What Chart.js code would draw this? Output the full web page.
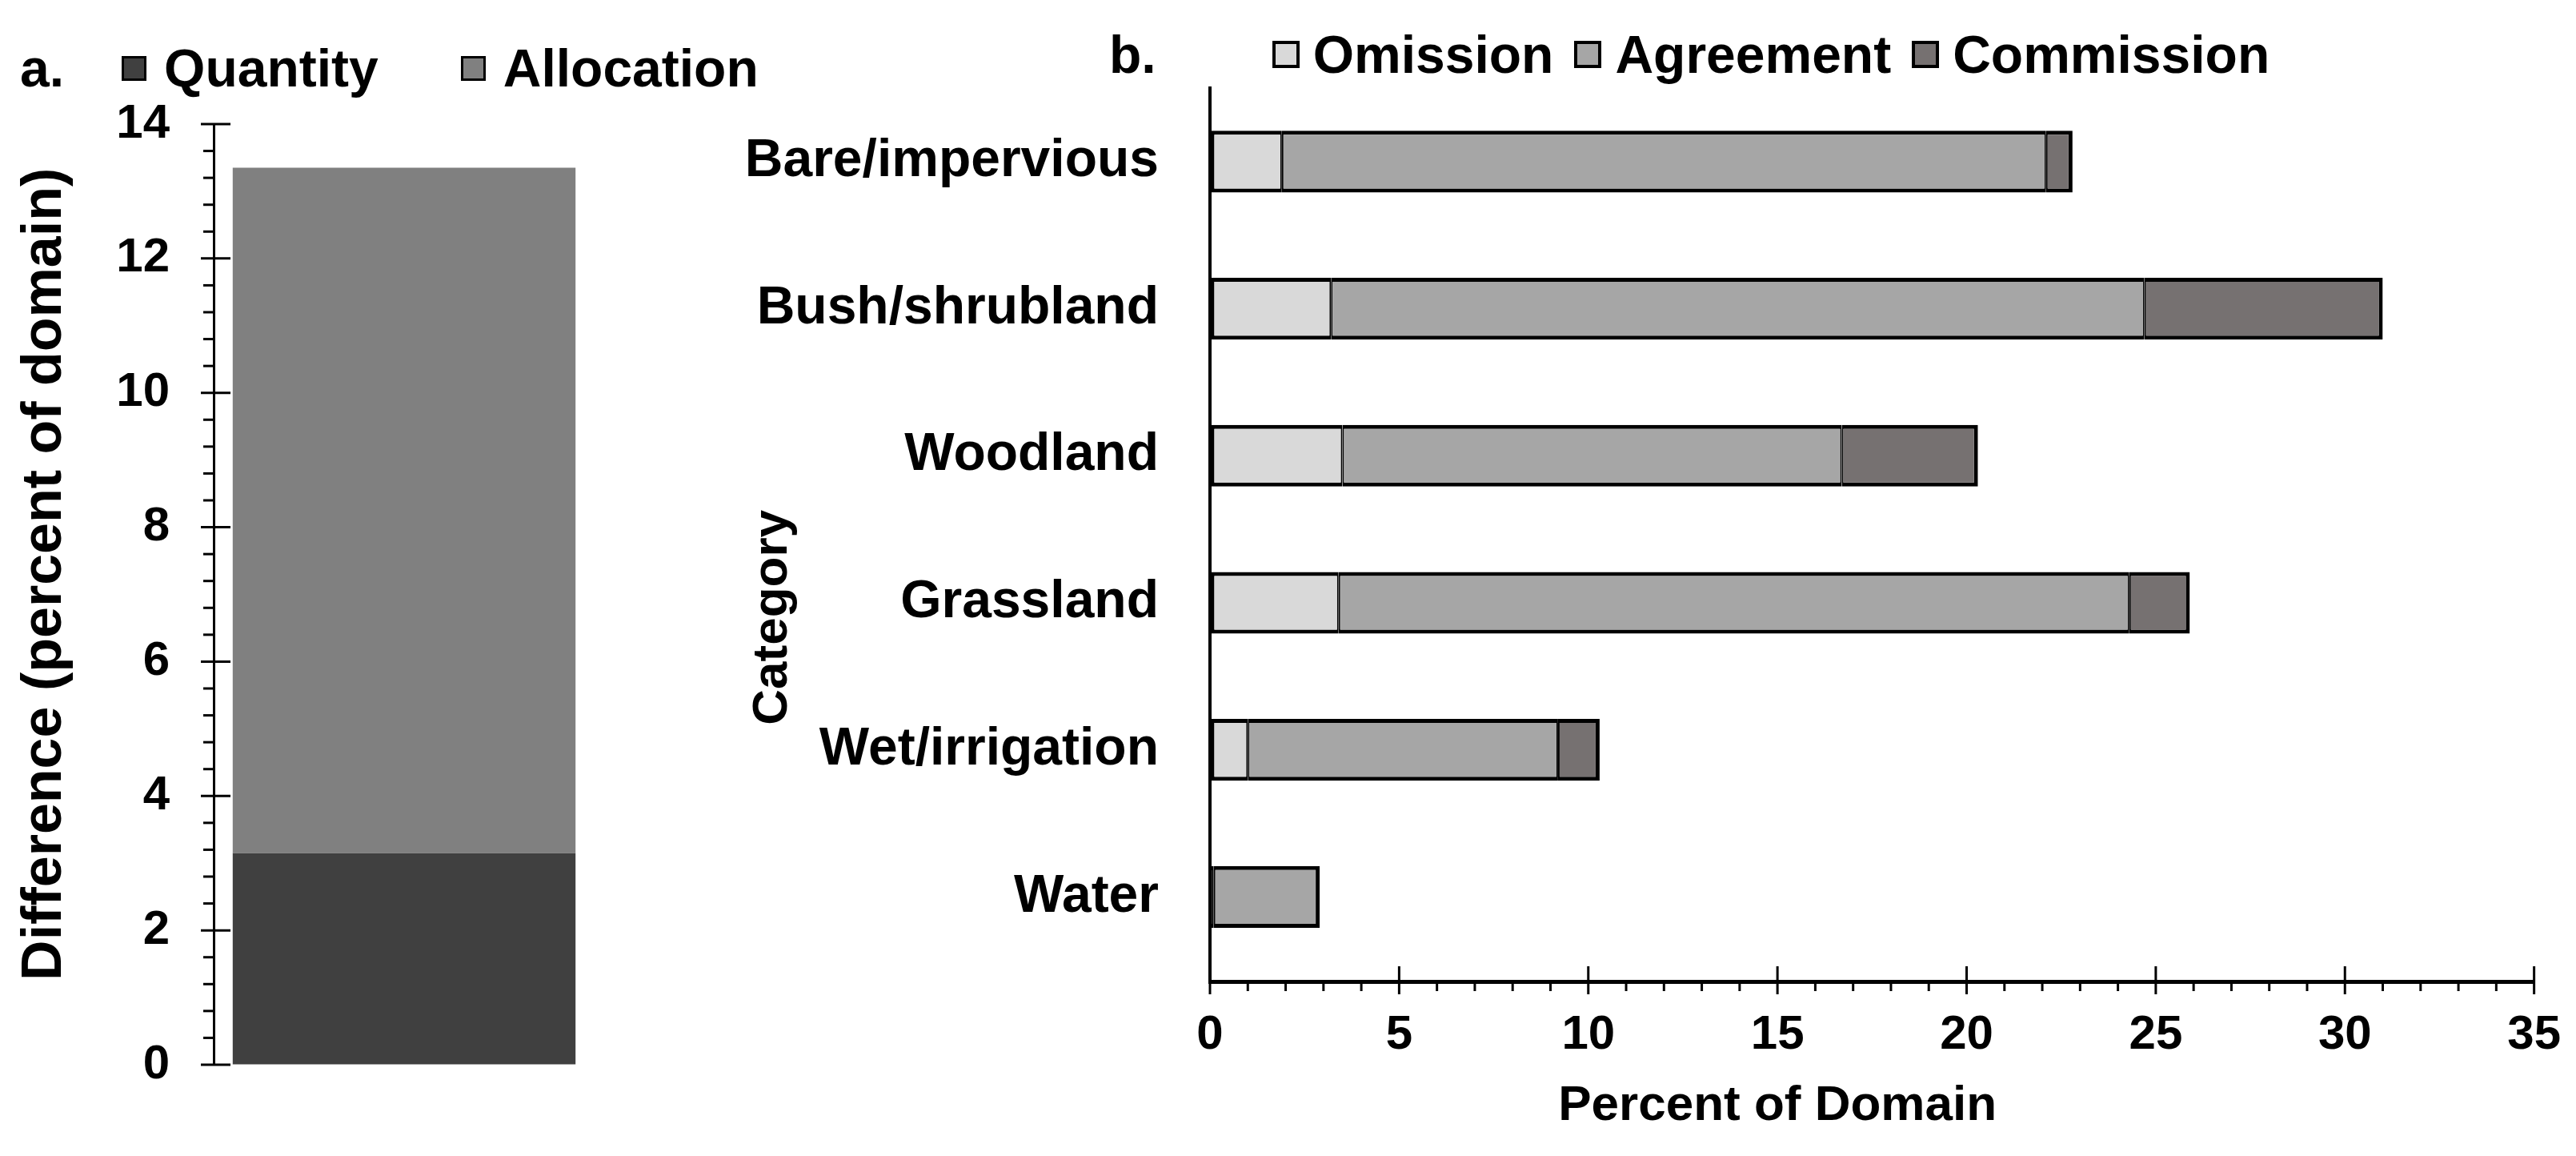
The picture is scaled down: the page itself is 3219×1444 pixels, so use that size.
<!DOCTYPE html>
<html>
<head>
<meta charset="utf-8">
<script src="https://cdn.jsdelivr.net/npm/chart.js@4.4.0/dist/chart.umd.min.js"></script>
<style>
    html, body { margin: 0; padding: 0; background: #fff; }
    body {
        width: 3219px; height: 1444px; position: relative; overflow: hidden;
        font-family: 'Liberation Sans', Arial, sans-serif; font-weight: bold; color: #000;
    }
    .panel { position: absolute; top: 0; height: 1444px; }
    #panelA { left: 0; width: 1000px; }
    #panelB { left: 860px; width: 2359px; }
    .legend {
        position: absolute; display: flex; align-items: center;
        font-size: 66px; line-height: 1; white-space: nowrap;
    }
    #legendA { left: 25px; top: 52px; }
    #legendB { left: 1386px; top: 35px; }
</style>
</head>
<body>
<div class="panel" id="panelA"><canvas id="chartA"></canvas></div>
<div class="panel" id="panelB"><canvas id="chartB"></canvas></div>
<div class="legend" id="legendA"></div>
<div class="legend" id="legendB"></div>
<script>
// panel a: difference components
const diffLabels = [''];
const quantity = [3.15];
const allocation = [10.2];
const diffTicks = [0, 2, 4, 6, 8, 10, 12, 14];

// panel b: per-category agreement
const categories = ['Bare/impervious', 'Bush/shrubland', 'Woodland', 'Grassland', 'Wet/irrigation', 'Water'];
const omission   = [1.9, 3.2, 3.5, 3.4, 1.0, 0.1];
const agreement  = [20.2, 21.5, 13.2, 20.9, 8.2, 2.8];
const commission = [0.7, 6.3, 3.6, 1.6, 1.1, 0];
const domainTicks = [0, 5, 10, 15, 20, 25, 30, 35];

const FONT = "'Liberation Sans', Arial, sans-serif";
Chart.defaults.font.family = FONT;
Chart.defaults.font.weight = 'bold';
Chart.defaults.color = '#000';

// 刻度线（主/次）和轴标题，位置都从比例尺取
const axisDecor = {
    id: 'axisDecor',
    afterDraw(chart, args, opts) {
        const ctx = chart.ctx;
        ctx.save();
        ctx.strokeStyle = '#000';
        (opts.ticks || []).forEach(t => {
            const scale = chart.scales[t.axis];
            const n = Math.round((scale.max - scale.min) / t.minorStep);
            ctx.lineWidth = t.width;
            for (let i = 0; i <= n; i++) {
                const v = scale.min + i * t.minorStep;
                const r = v / t.majorStep;
                const isMajor = Math.abs(r - Math.round(r)) < 1e-6;
                const p = scale.getPixelForValue(v);
                const out = isMajor ? t.majorOut : t.minorOut;
                const inn = isMajor ? t.majorIn : 0;
                ctx.beginPath();
                if (scale.isHorizontal()) {
                    ctx.moveTo(p, scale.top - inn);
                    ctx.lineTo(p, scale.top + out);
                } else {
                    ctx.moveTo(scale.right - out, p);
                    ctx.lineTo(scale.right + inn, p);
                }
                ctx.stroke();
            }
        });
        (opts.titles || []).forEach(t => {
            const scale = chart.scales[t.axis];
            const p = scale.getPixelForValue(t.at);
            ctx.save();
            ctx.font = `bold ${t.size}px ${FONT}`;
            ctx.fillStyle = '#000';
            ctx.textAlign = 'center';
            ctx.textBaseline = 'middle';
            if (scale.isHorizontal()) {
                ctx.fillText(t.text, p, scale.top + t.offset);
            } else {
                ctx.translate(scale.right - t.offset, p);
                ctx.rotate(-Math.PI / 2);
                ctx.fillText(t.text, 0, 0);
            }
            ctx.restore();
        });
        ctx.restore();
    }
};

// 图例用 HTML 生成
function htmlLegend(chart, el, tag, s) {
    el.innerHTML = '';
    const t = document.createElement('span');
    t.textContent = tag;
    t.style.marginRight = s.tagGap + 'px';
    el.appendChild(t);
    chart.data.datasets.forEach((ds, k) => {
        const box = document.createElement('span');
        box.style.cssText = `display:inline-block;box-sizing:border-box;width:${s.box}px;height:${s.box}px;` +
            `background:${ds.backgroundColor};border:${s.border}px solid #000;` +
            `margin-left:${k ? s.itemGap : 0}px;margin-right:${s.textGap}px`;
        el.appendChild(box);
        const txt = document.createElement('span');
        txt.textContent = ds.label;
        el.appendChild(txt);
    });
}

function segBorder(ctx) {
    const i = ctx.dataIndex;
    if (i === undefined) return 4;
    const vals = [omission[i], agreement[i], commission[i]];
    const first = vals.findIndex(v => v > 0);
    let last = -1;
    vals.forEach((v, k) => { if (v > 0) last = k; });
    const d = ctx.datasetIndex;
    return { top: 5, bottom: 5, left: d === first ? 5 : 2, right: d === last ? 5 : 2 };
}

const chartA = new Chart(document.getElementById('chartA'), {
    type: 'bar',
    data: {
        labels: diffLabels,
        datasets: [
            { label: 'Quantity', data: quantity, backgroundColor: '#404040' },
            { label: 'Allocation', data: allocation, backgroundColor: '#808080' }
        ]
    },
    options: {
        responsive: true,
        maintainAspectRatio: false,
        animation: false,
        layout: { padding: { top: 155, right: 257, bottom: 114, left: 0 } },
        datasets: { bar: { categoryPercentage: 1, barPercentage: 0.9 } },
        scales: {
            x: { display: false, stacked: true },
            y: {
                stacked: true,
                min: diffTicks[0],
                max: diffTicks[diffTicks.length - 1],
                afterBuildTicks: s => { s.ticks = diffTicks.map(v => ({ value: v })); },
                ticks: { color: '#000', font: { size: 60, weight: 'bold' }, padding: 39 },
                grid: { drawOnChartArea: false, drawTicks: true, tickLength: 16, color: 'rgba(0,0,0,0)' },
                border: { color: '#000', width: 3 },
                afterFit: s => { s.width = 267; }
            }
        },
        plugins: {
            legend: { display: false },
            tooltip: { enabled: false },
            axisDecor: {
                ticks: [{ axis: 'y', minorStep: 0.4, majorStep: 2, majorOut: 16, majorIn: 21, minorOut: 13, width: 3 }],
                titles: [{ axis: 'y', text: 'Difference (percent of domain)', at: 7.3, offset: 210, size: 70 }]
            }
        }
    },
    plugins: [axisDecor]
});

const chartB = new Chart(document.getElementById('chartB'), {
    type: 'bar',
    data: {
        labels: categories,
        datasets: [
            { label: 'Omission', data: omission, backgroundColor: '#d9d9d9' },
            { label: 'Agreement', data: agreement, backgroundColor: '#a6a6a6' },
            { label: 'Commission', data: commission, backgroundColor: '#767171' }
        ]
    },
    options: {
        indexAxis: 'y',
        responsive: true,
        maintainAspectRatio: false,
        animation: false,
        layout: { padding: { top: 110, right: 51, bottom: 108, left: 0 } },
        datasets: {
            bar: {
                categoryPercentage: 1,
                barPercentage: 0.42,
                borderColor: '#000',
                borderSkipped: false,
                borderWidth: segBorder
            }
        },
        scales: {
            x: {
                stacked: true,
                min: domainTicks[0],
                max: domainTicks[domainTicks.length - 1],
                afterBuildTicks: s => { s.ticks = domainTicks.map(v => ({ value: v })); },
                ticks: { color: '#000', font: { size: 60, weight: 'bold' }, padding: 19, maxRotation: 0 },
                grid: { drawOnChartArea: false, drawTicks: true, tickLength: 12, color: 'rgba(0,0,0,0)' },
                border: { color: '#000', width: 5 },
                afterFit: s => { s.height = 110; }
            },
            y: {
                stacked: true,
                // 底部多留一点空白，x 轴比最后一个类别低
                afterBuildTicks: s => { s._valueRange += 0.075; },
                ticks: { color: '#000', font: { size: 66, weight: 'bold' }, padding: 64 },
                grid: { drawOnChartArea: false, drawTicks: false, color: 'rgba(0,0,0,0)' },
                border: { color: '#000', width: 4 },
                afterFit: s => { s.width = 652; }
            }
        },
        plugins: {
            legend: { display: false },
            tooltip: { enabled: false },
            axisDecor: {
                ticks: [{ axis: 'x', minorStep: 1, majorStep: 5, majorOut: 16, majorIn: 19, minorOut: 12, width: 3 }],
                titles: [
                    { axis: 'x', text: 'Percent of Domain', at: 15, offset: 156, size: 62 },
                    { axis: 'y', text: 'Category', at: 3.1, offset: 546, size: 62 }
                ]
            }
        }
    },
    plugins: [axisDecor]
});

htmlLegend(chartA, document.getElementById('legendA'), 'a.', { tagGap: 72, box: 31, border: 3, textGap: 22, itemGap: 103 });
htmlLegend(chartB, document.getElementById('legendB'), 'b.', { tagGap: 145, box: 34, border: 4, textGap: 17, itemGap: 26 });
</script>
</body>
</html>
